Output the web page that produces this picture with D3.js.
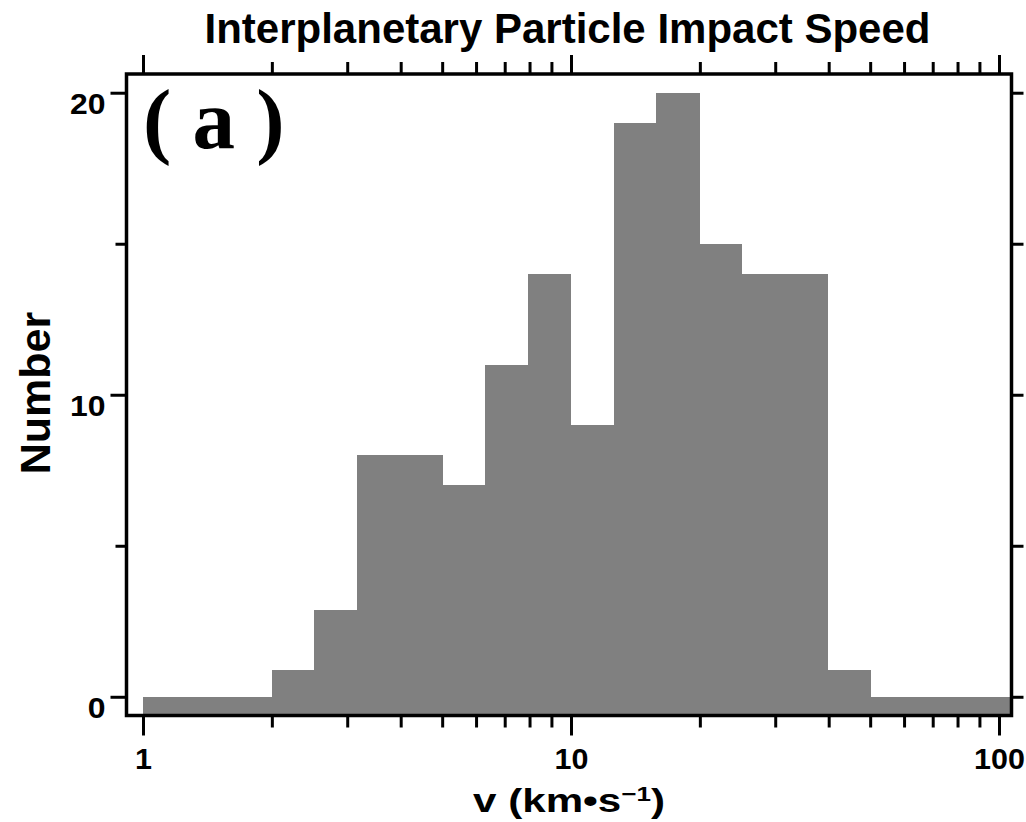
<!DOCTYPE html>
<html>
<head>
<meta charset="utf-8">
<script src="https://cdn.jsdelivr.net/npm/d3@7"></script>
<style>
  body { margin: 0; background: #fff; }
  svg { display: block; }
</style>
</head>
<body>
<div id="chart"></div>
<script>
// histogram bins (log spaced, 0.1 decade above 2 km/s)
const binEdges = [1, 2, 2.51, 3.16, 3.98, 5.01, 6.31, 7.94, 10, 12.6, 15.8, 20, 25.1, 31.6, 39.8, 50.1, 63.1, 79.4, 100, 126];
const counts   = [0, 0.9, 2.87, 8, 8, 7, 11, 14, 9, 19, 20, 15, 14, 14, 0.9, 0, 0, 0, 0];

const xMajor = [1, 10, 100];
const xMinor = [2, 3, 4, 5, 6, 7, 8, 9, 20, 30, 40, 50, 60, 70, 80, 90];
const yMajor = [0, 10, 20];
const yMinor = [5, 15];

const titleText = 'Interplanetary Particle Impact Speed';
const panelLabel = '( a )';
const yLabel = 'Number';

const width = 1026, height = 822;
const frame = {left: 126.5, right: 1011.5, top: 74, bottom: 715.5};
const sans = '"Liberation Sans", Arial, Helvetica, sans-serif';
const serif = '"Liberation Serif", "Times New Roman", serif';

const svg = d3.select('#chart').append('svg')
  .attr('width', width)
  .attr('height', height);

const x = d3.scaleLog()
  .domain([0.915, 106.95])
  .range([frame.left, frame.right]);

const y = d3.scaleLinear()
  .domain([-0.62, 20.62])
  .range([frame.bottom, frame.top]);

const bins = counts.map((n, i) => ({x0: binEdges[i], x1: binEdges[i + 1], n: n}));

svg.append('clipPath').attr('id', 'plot')
  .append('rect')
  .attr('x', frame.left).attr('y', frame.top)
  .attr('width', frame.right - frame.left)
  .attr('height', frame.bottom - frame.top);

svg.append('g')
  .attr('clip-path', 'url(#plot)')
  .selectAll('rect')
  .data(bins)
  .join('rect')
  .attr('x', d => x(d.x0))
  .attr('width', d => x(d.x1) - x(d.x0))
  .attr('y', d => y(d.n))
  .attr('height', d => frame.bottom - y(d.n))
  .attr('fill', '#808080')
  .attr('shape-rendering', 'crispEdges');

// the labels in the original are drawn a bit wider than the font
function stretch(sel, s) {
  sel.each(function() {
    const ax = +this.getAttribute('x') || 0;
    this.setAttribute('transform', `translate(${ax},0) scale(${s},1) translate(${-ax},0)`);
  });
}

function ticks(axis, tr) {
  const g = svg.append('g').attr('transform', tr).call(axis);
  g.select('.domain').remove();
  g.selectAll('line').attr('stroke', '#000').attr('stroke-width', 3);
  g.selectAll('text')
    .attr('font-family', sans)
    .attr('font-weight', 'bold')
    .attr('font-size', 29)
    .attr('fill', '#000');
  return g;
}

// bottom
const bx = ticks(d3.axisBottom(x).tickValues(xMajor).tickSize(20).tickFormat(d3.format('d')),
  `translate(0,${frame.bottom})`);
bx.selectAll('text').attr('y', 32.5).attr('dy', '0.71em').call(stretch, 1.05);
ticks(d3.axisBottom(x).tickValues(xMinor).tickSize(12).tickFormat(''), `translate(0,${frame.bottom})`);

// top
ticks(d3.axisTop(x).tickValues(xMajor).tickSize(19).tickFormat(''), `translate(0,${frame.top})`);
ticks(d3.axisTop(x).tickValues(xMinor).tickSize(12).tickFormat(''), `translate(0,${frame.top})`);

// left
const ly = ticks(d3.axisLeft(y).tickValues(yMajor).tickSize(16).tickPadding(5).tickFormat(d3.format('d')),
  `translate(${frame.left},0)`);
ly.selectAll('text').attr('dy', '0.7em').call(stretch, 1.1);
ticks(d3.axisLeft(y).tickValues(yMinor).tickSize(11).tickFormat(''), `translate(${frame.left},0)`);

// right
ticks(d3.axisRight(y).tickValues(yMajor.concat(yMinor)).tickSize(12).tickFormat(''),
  `translate(${frame.right},0)`);

// frame
svg.append('rect')
  .attr('x', frame.left).attr('y', frame.top)
  .attr('width', frame.right - frame.left)
  .attr('height', frame.bottom - frame.top)
  .attr('fill', 'none')
  .attr('stroke', '#000')
  .attr('stroke-width', 3.5);

// title
svg.append('text')
  .attr('x', 567.5).attr('y', 43)
  .attr('text-anchor', 'middle')
  .attr('font-family', sans).attr('font-weight', 'bold').attr('font-size', 42)
  .text(titleText);

// panel label
svg.append('text')
  .attr('x', 143).attr('y', 148)
  .attr('font-family', serif).attr('font-weight', 'bold').attr('font-size', 85)
  .text(panelLabel);

// y label
svg.append('text')
  .attr('transform', 'translate(50,393) rotate(-90)')
  .attr('text-anchor', 'middle')
  .attr('font-family', sans).attr('font-weight', 'bold').attr('font-size', 43)
  .text(yLabel);

// x label with superscript
const xl = svg.append('text')
  .attr('x', 569).attr('y', 812)
  .attr('text-anchor', 'middle')
  .attr('font-family', sans).attr('font-weight', 'bold').attr('font-size', 34);
xl.append('tspan').text('v (km\u2022s');
xl.append('tspan').attr('font-size', 21).attr('dy', -11).text('\u22121');
xl.append('tspan').attr('dy', 11).text(')');
const xlw = xl.node().getBBox().width;
stretch(xl, 192 / xlw);
</script>
</body>
</html>
